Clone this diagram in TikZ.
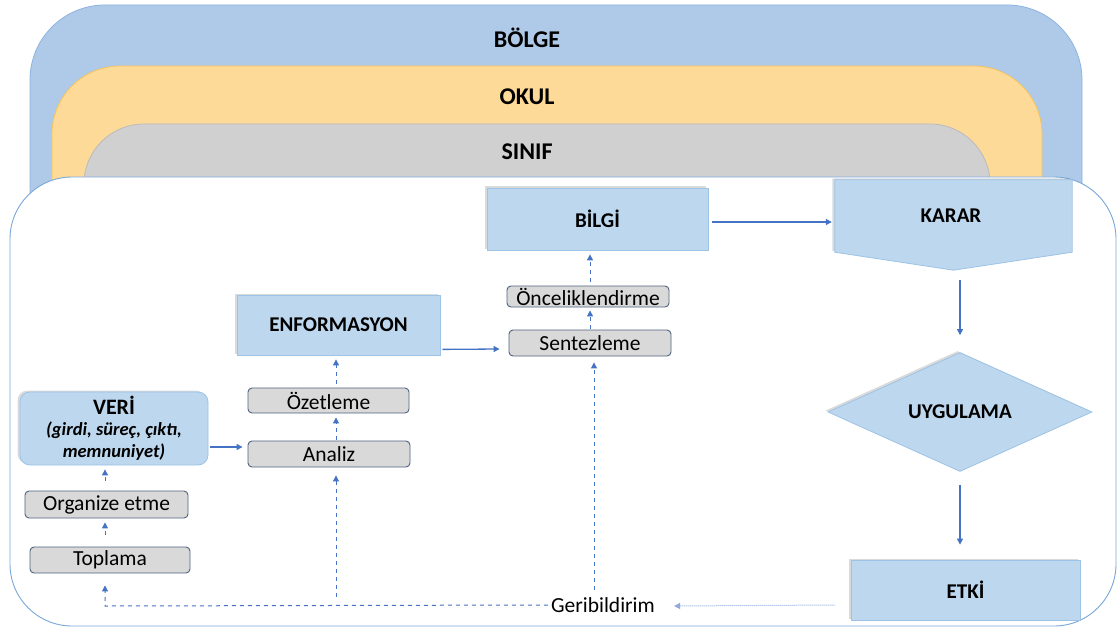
\documentclass[tikz,border=0pt]{standalone}
\usepackage{fontspec}
\setmainfont{Carlito}
\usetikzlibrary{arrows.meta,shapes.geometric,calc,shadows}
\definecolor{lyblue}{HTML}{AECAE8}
\definecolor{lyblueD}{HTML}{8DB3E2}
\definecolor{lyorange}{HTML}{FEDA98}
\definecolor{lyorangeD}{HTML}{F4C45A}
\definecolor{lygray}{HTML}{D0D0D0}
\definecolor{lygrayD}{HTML}{BBBBBB}
\definecolor{nodeblue}{HTML}{BDD7EE}
\definecolor{nodeblueD}{HTML}{9DC3E6}
\definecolor{stepgray}{HTML}{D9D9D9}
\definecolor{stepgrayD}{HTML}{4F6281}
\definecolor{arrowblue}{HTML}{4472C4}
\definecolor{frameblue}{HTML}{7AA7DA}
\definecolor{dotblue}{HTML}{8FAADC}
\begin{document}
\begin{tikzpicture}[x=1pt,y=-1pt,
  layerlabel/.style={font=\fontsize{24}{28}\selectfont\bfseries},
  shad/.style={drop shadow={shadow xshift=-2.5pt,shadow yshift=1.5pt,opacity=0.18,fill=black!80}},
  bluebox/.style={draw=nodeblueD,fill=nodeblue,line width=0.8pt,shad,inner sep=0pt,
    font=\fontsize{21}{24}\selectfont\bfseries},
  graybox/.style={draw=stepgrayD,fill=stepgray,line width=0.9pt,rounded corners=4pt,inner sep=0pt,
    font=\fontsize{21.5}{22}\selectfont},
  solidarrow/.style={draw=arrowblue,line width=1.3pt,-{Triangle[length=6pt,width=6pt]}},
  dasharrow/.style={draw=arrowblue,line width=1pt,dash pattern=on 4pt off 4pt,-{Triangle[length=6pt,width=6pt]}},
  dashline/.style={draw=arrowblue,line width=1pt,dash pattern=on 4pt off 4pt},
  dotarrow/.style={draw=dotblue,line width=1pt,dash pattern=on 1pt off 1pt,-{Triangle[length=6pt,width=6pt]}}
]
\useasboundingbox (0,0) rectangle (1118,631);
\fill[white] (0,0) rectangle (1118,631);
% layers
\draw[lyblueD,fill=lyblue,line width=0.8pt,rounded corners=75pt] (30,330) -- (30,5) -- (1082,5) -- (1082,330);
\draw[lyorangeD,fill=lyorange,line width=0.8pt,rounded corners=68pt] (52,330) -- (52,66) -- (1042,66) -- (1042,330);
\draw[lygrayD,fill=lygray,line width=0.8pt,rounded corners=60pt] (84,330) -- (84,124) -- (990,124) -- (990,330);
\node[layerlabel] (bolge) at (527,38) {BÖLGE};
\node[layerlabel] (okul) at (527,97) {OKUL};
\node[layerlabel] (sinif) at (527,152) {SINIF};
% main frame
\draw[frameblue,fill=white,line width=0.9pt,rounded corners=62pt] (10,177) rectangle (1116,626);

% nodes
\node[bluebox,minimum width=221pt,minimum height=62pt] (bilgi) at (597.5,219) {BİLGİ};
\node[inner sep=0pt,minimum width=237pt,minimum height=90pt] (karar) at (953.5,225) {};
\path[draw=nodeblueD,fill=nodeblue,line width=0.8pt,shad]
  (karar.north west) -- (karar.north east) -- ($(karar.south east)+(0,-18)$)
  -- (karar.south) -- ($(karar.south west)+(0,-18)$) -- cycle;
\node[font=\fontsize{21}{24}\selectfont\bfseries] (karartext) at (951,216) {KARAR};
\node[bluebox,diamond,aspect=2.2,minimum width=264pt,minimum height=119pt] (uyg) at (960,412) {UYGULAMA};
\node[bluebox,minimum width=229pt,minimum height=60pt] (etki) at (965.5,590) {ETKİ};
\node[bluebox,minimum width=203pt,minimum height=60pt] (enf) at (338.5,325) {ENFORMASYON};
\node[bluebox,rounded corners=10pt,minimum width=188pt,minimum height=73pt,align=center,
  font=\fontsize{18.5}{22}\selectfont\bfseries] (veri) at (114,428.5)
  {{\fontsize{22}{24}\selectfont VERİ}\\[-1pt]\textit{(girdi, süreç, çıktı,}\\\textit{memnuniyet)}};
\node[graybox,minimum width=161pt,minimum height=25pt] (ozet) at (328.5,400.5) {Özetleme};
\node[graybox,minimum width=162pt,minimum height=26pt] (analiz) at (329,454) {Analiz};
\node[graybox,minimum width=162pt,minimum height=21pt] (oncelik) at (588,296.5) {Önceliklendirme};
\node[graybox,minimum width=162pt,minimum height=26pt] (sentez) at (590,343) {Sentezleme};
\node[graybox,minimum width=163pt,minimum height=27pt] (organize) at (106.5,504.5) {Organize etme};
\node[graybox,minimum width=160pt,minimum height=26pt] (toplama) at (110,560) {Toplama};
\node[font=\fontsize{21.5}{22}\selectfont,inner sep=3pt] (geri) at (603,605) {Geribildirim};

% feedback coordinates
\coordinate (fbcorner) at (105,606);
\coordinate (fa) at (336,597);
\coordinate (fs) at (594,590);

% solid arrows
\draw[solidarrow] ($(veri.east)+(2,18.5)$) -- ($(analiz.west)+(-5,-7)$);
\draw[solidarrow] ($(enf.south east)+(2,-6)$) -- ($(sentez.west)+(-9,6)$);
\draw[solidarrow] ($(bilgi.east)+(4,3)$) -- ($(karar.west)+(-3,-3)$);
\draw[solidarrow] ($(karar.south)+(6.5,10)$) -- ($(uyg.north)+(0,-17)$);
\draw[solidarrow] ($(uyg.south)+(0,13)$) -- ($(etki.north)+(-5.5,-15)$);
% dotted
\draw[dotarrow] ($(etki.west)+(-16,15)$) -- ($(geri.east)+(16,1)$);
% dashed feedback
\draw[dasharrow,shorten >=12pt] (geri.west) -- (fbcorner) -- (fbcorner |- toplama.south);
\draw[dasharrow,shorten >=8pt] (fa) -- (fa |- analiz.south);
\draw[dasharrow,shorten >=6pt] (fs) -- (fs |- sentez.south);
% dashed steps
\draw[dasharrow,shorten <=12pt,shorten >=4pt] (toplama.north -| fbcorner) -- (organize.south -| fbcorner);
\draw[dasharrow,shorten <=10pt,shorten >=4pt] (organize.north -| fbcorner) -- (veri.south -| fbcorner);
\draw[dasharrow,shorten <=1pt,shorten >=4pt] (analiz.north -| fa) -- (ozet.south -| fa);
\draw[dasharrow,shorten <=4pt,shorten >=4pt] (ozet.north -| fa) -- (enf.south -| fa);
\draw[dasharrow,shorten <=1pt,shorten >=3pt] (sentez.north) -- (sentez.north |- oncelik.south);
\draw[dasharrow,shorten <=4pt,shorten >=4pt] (sentez.north |- oncelik.north) -- (sentez.north |- bilgi.south);
\end{tikzpicture}
\end{document}
